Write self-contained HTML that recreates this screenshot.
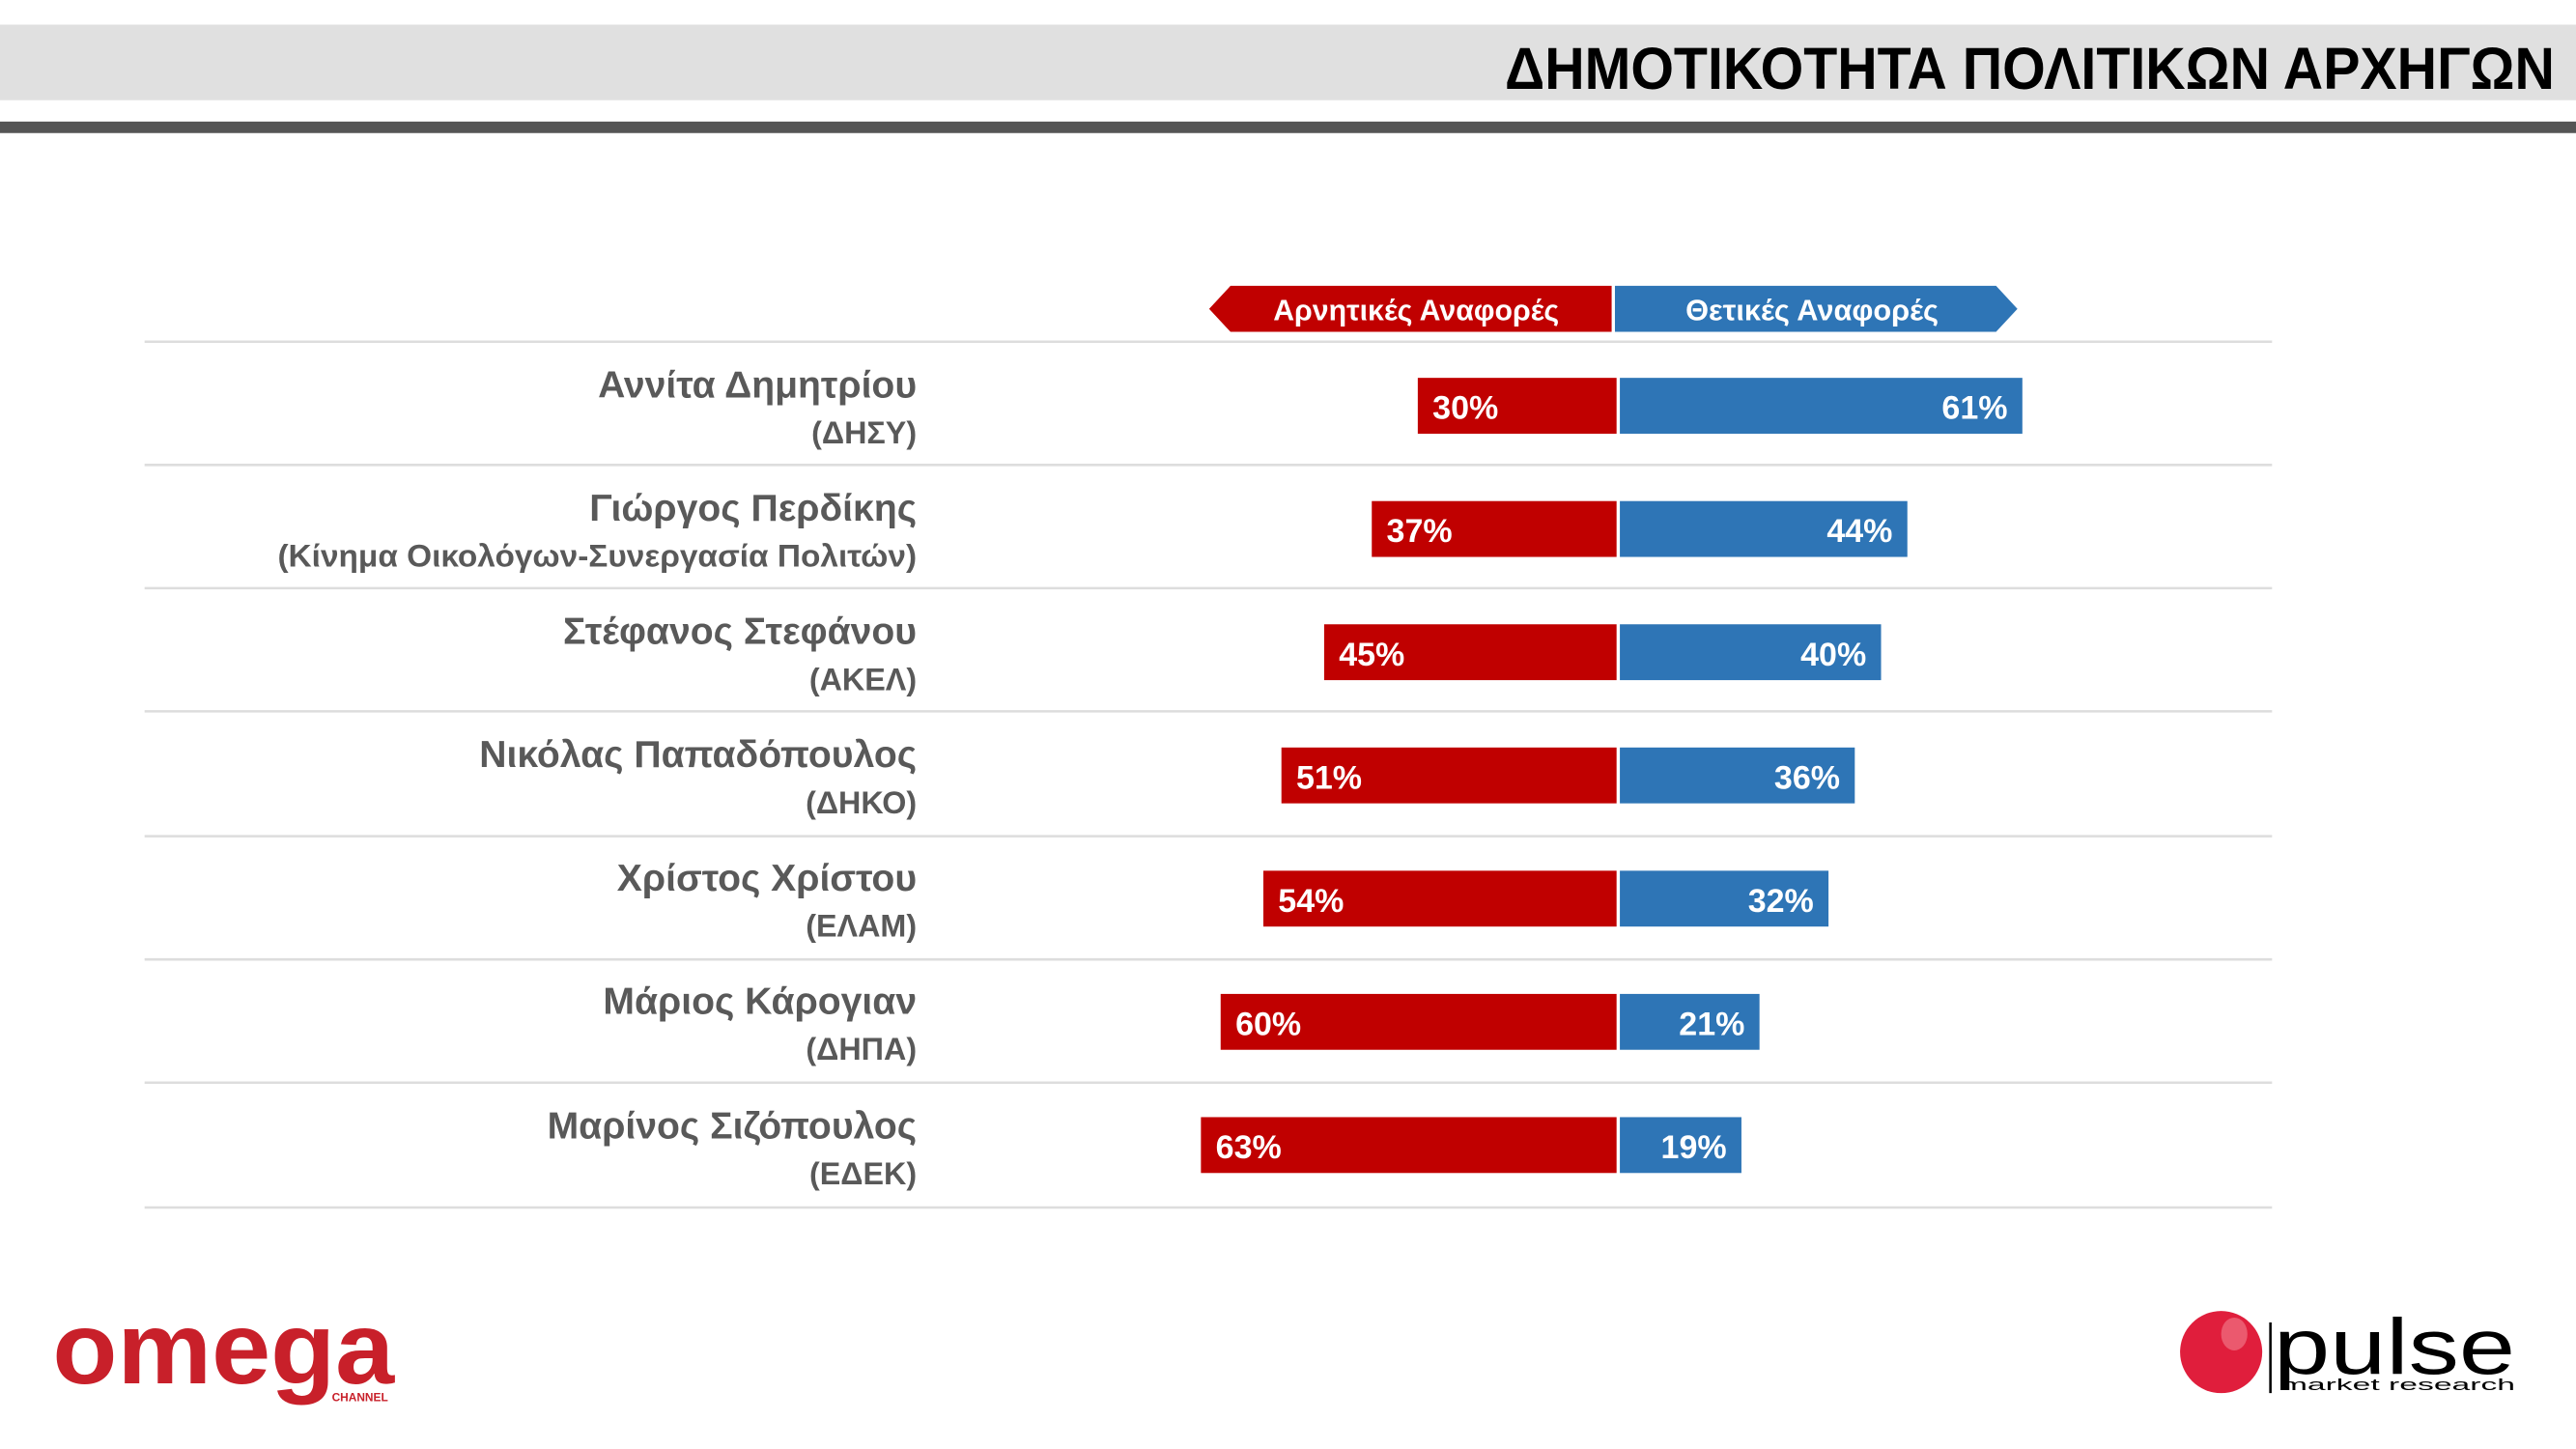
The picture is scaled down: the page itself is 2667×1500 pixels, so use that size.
<!DOCTYPE html>
<html><head><meta charset="utf-8"><style>html,body{margin:0;padding:0;background:#fff}svg{display:block}</style></head>
<body>
<svg width="2667" height="1500" viewBox="0 0 1568 882" preserveAspectRatio="none" xmlns="http://www.w3.org/2000/svg" font-family="'Liberation Sans', 'DejaVu Sans', sans-serif">
<rect x="0" y="15" width="1568" height="46" fill="#e0e0e0"/>
<text x="916" y="54" textLength="639" lengthAdjust="spacingAndGlyphs" font-weight="bold" font-size="36" fill="#000">ΔΗΜΟΤΙΚΟΤΗΤΑ ΠΟΛΙΤΙΚΩΝ ΑΡΧΗΓΩΝ</text>
<rect x="0" y="74" width="1568" height="7" fill="#555"/>
<polygon points="749,174 981,174 981,202 749,202 736,188" fill="#c00000"/>
<polygon points="983,174 1215,174 1228,188 1215,202 983,202" fill="#2e75b6"/>
<text x="775" y="195" textLength="174" lengthAdjust="spacingAndGlyphs" font-weight="bold" font-size="18" fill="#fff">Αρνητικές Αναφορές</text>
<text x="1026" y="195" textLength="154" lengthAdjust="spacingAndGlyphs" font-weight="bold" font-size="18" fill="#fff">Θετικές Αναφορές</text>
<g stroke="#dddddd" stroke-width="1.5">
<line x1="88" y1="208" x2="1383" y2="208"/><line x1="88" y1="283" x2="1383" y2="283"/><line x1="88" y1="358" x2="1383" y2="358"/><line x1="88" y1="433" x2="1383" y2="433"/><line x1="88" y1="509" x2="1383" y2="509"/><line x1="88" y1="584" x2="1383" y2="584"/><line x1="88" y1="659" x2="1383" y2="659"/><line x1="88" y1="735" x2="1383" y2="735"/>
</g>
<g fill="#595959" text-anchor="end" font-weight="bold">
<text x="558" y="242" font-size="23">Αννίτα Δημητρίου</text><text x="558" y="270" font-size="19">(ΔΗΣΥ)</text>
<text x="558" y="317" font-size="23">Γιώργος Περδίκης</text><text x="558" y="345" font-size="19" textLength="389" lengthAdjust="spacingAndGlyphs">(Κίνημα Οικολόγων-Συνεργασία Πολιτών)</text>
<text x="558" y="392" font-size="23">Στέφανος Στεφάνου</text><text x="558" y="420" font-size="19">(ΑΚΕΛ)</text>
<text x="558" y="467" font-size="23">Νικόλας Παπαδόπουλος</text><text x="558" y="495" font-size="19">(ΔΗΚΟ)</text>
<text x="558" y="542" font-size="23">Χρίστος Χρίστου</text><text x="558" y="570" font-size="19">(ΕΛΑΜ)</text>
<text x="558" y="617" font-size="23">Μάριος Κάρογιαν</text><text x="558" y="645" font-size="19">(ΔΗΠΑ)</text>
<text x="558" y="693" font-size="23">Μαρίνος Σιζόπουλος</text><text x="558" y="721" font-size="19">(ΕΔΕΚ)</text>
</g>
<g>
<rect x="863" y="230" width="121" height="34" fill="#c00000"/><rect x="986" y="230" width="245" height="34" fill="#2e75b6"/>
<rect x="835" y="305" width="149" height="34" fill="#c00000"/><rect x="986" y="305" width="175" height="34" fill="#2e75b6"/>
<rect x="806" y="380" width="178" height="34" fill="#c00000"/><rect x="986" y="380" width="159" height="34" fill="#2e75b6"/>
<rect x="780" y="455" width="204" height="34" fill="#c00000"/><rect x="986" y="455" width="143" height="34" fill="#2e75b6"/>
<rect x="769" y="530" width="215" height="34" fill="#c00000"/><rect x="986" y="530" width="127" height="34" fill="#2e75b6"/>
<rect x="743" y="605" width="241" height="34" fill="#c00000"/><rect x="986" y="605" width="85" height="34" fill="#2e75b6"/>
<rect x="731" y="680" width="253" height="34" fill="#c00000"/><rect x="986" y="680" width="74" height="34" fill="#2e75b6"/>
</g>
<g fill="#fff" font-weight="bold" font-size="20">
<text x="872" y="255">30%</text><text x="1222" y="255" text-anchor="end">61%</text>
<text x="844" y="330">37%</text><text x="1152" y="330" text-anchor="end">44%</text>
<text x="815" y="405">45%</text><text x="1136" y="405" text-anchor="end">40%</text>
<text x="789" y="480">51%</text><text x="1120" y="480" text-anchor="end">36%</text>
<text x="778" y="555">54%</text><text x="1104" y="555" text-anchor="end">32%</text>
<text x="752" y="630">60%</text><text x="1062" y="630" text-anchor="end">21%</text>
<text x="740" y="705">63%</text><text x="1051" y="705" text-anchor="end">19%</text>
</g>
<text x="32" y="842" textLength="208" lengthAdjust="spacingAndGlyphs" font-weight="bold" font-size="62" fill="#c8202a">omega</text>
<text x="202" y="853" font-size="7" font-weight="bold" fill="#c8202a">CHANNEL</text>
<ellipse cx="1352" cy="823" rx="25" ry="25" fill="#e01e3c"/>
<ellipse cx="1360" cy="812" rx="8" ry="10" fill="#f2808f" opacity="0.6"/>
<line x1="1382" y1="805" x2="1382" y2="848" stroke="#000" stroke-width="1.5"/>
<text x="1384" y="836" textLength="147" lengthAdjust="spacingAndGlyphs" font-size="48" fill="#000">pulse</text>
<text x="1388" y="846" textLength="143" lengthAdjust="spacingAndGlyphs" font-size="9.5" fill="#000">market research</text>
</svg>
</body></html>
